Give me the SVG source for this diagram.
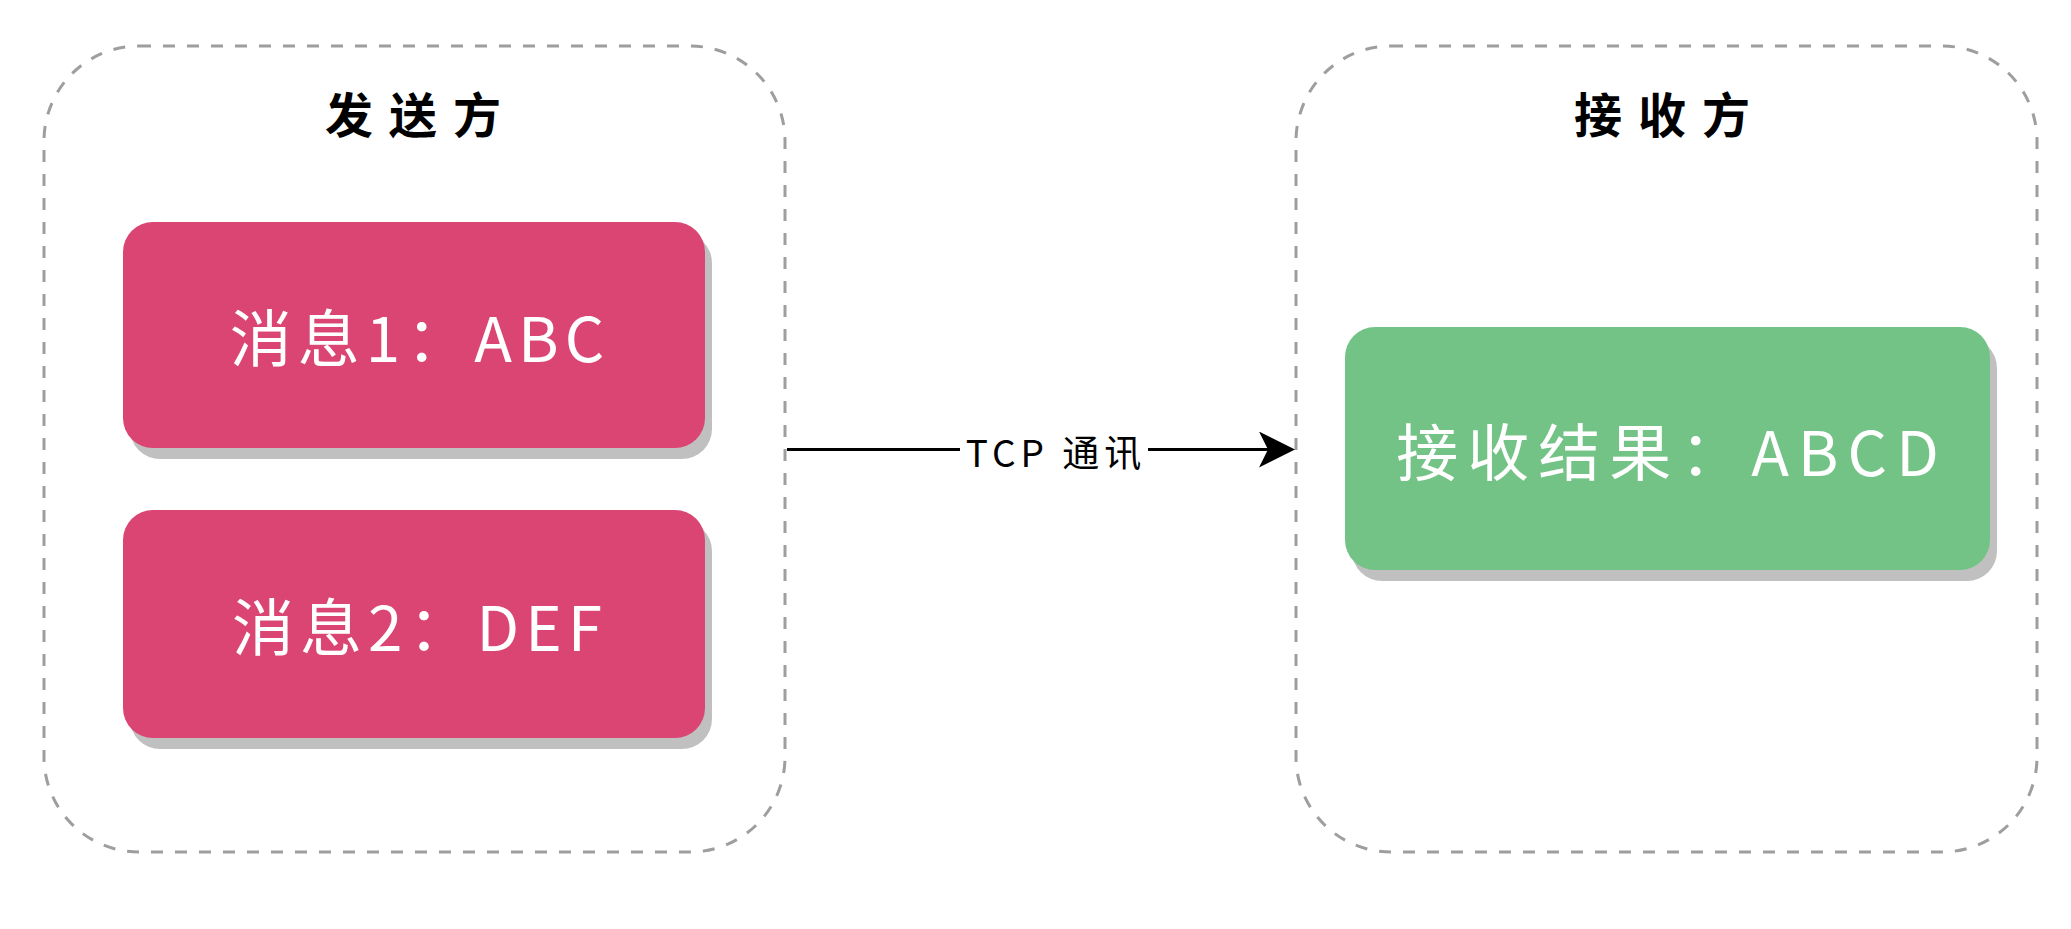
<svg xmlns="http://www.w3.org/2000/svg" width="2071" height="929" viewBox="0 0 2071 929">
  <style>
    .container { fill: #FFFFFF; stroke: #9E9E9E; stroke-width: 3; stroke-dasharray: 12 12; }
    .shadow { fill: #C0C0C0; }
    .pink { fill: #DA4573; }
    .green { fill: #74C386; }
    .title { font-family: "Noto Sans CJK SC", "Noto Sans", sans-serif; font-size: 48px; font-weight: bold; fill: #000000; letter-spacing: 16px; }
    .boxtext { font-family: "Noto Sans CJK SC", "Noto Sans", sans-serif; font-size: 62px; fill: #FFFFFF; }
    .label { font-family: "Noto Sans CJK SC", "Noto Sans", sans-serif; font-size: 37px; fill: #000000; letter-spacing: 5px; }
    .edge { fill: none; stroke: #000000; stroke-width: 3; }
  </style>
  <defs>
    <marker id="arrow" viewBox="0 0 36 36" refX="26" refY="18" markerWidth="36" markerHeight="36" markerUnits="userSpaceOnUse" orient="auto">
      <path d="M0,0 L36,18 L0,36 L9,18 Z" fill="#000000"/>
    </marker>
  </defs>
  <rect width="2071" height="929" fill="#FFFFFF"/>

  <g id="sender">
    <rect class="container" x="44" y="46" width="741" height="806" rx="95" ry="95"/>
    <text class="title" x="421" y="112" text-anchor="middle" dominant-baseline="central">发送方</text>
  </g>

  <g id="receiver">
    <rect class="container" x="1296" y="46" width="741" height="806" rx="95" ry="95"/>
    <text class="title" x="1670" y="112" text-anchor="middle" dominant-baseline="central">接收方</text>
  </g>

  <g id="msg1">
    <rect class="shadow" x="130" y="233" width="582" height="226" rx="30" ry="30"/>
    <rect class="pink" x="123" y="222" width="582" height="226" rx="30" ry="30"/>
    <text class="boxtext" x="420" y="335" text-anchor="middle" dominant-baseline="central" letter-spacing="6">消息1：ABC</text>
  </g>

  <g id="msg2">
    <rect class="shadow" x="130" y="521" width="582" height="228" rx="30" ry="30"/>
    <rect class="pink" x="123" y="510" width="582" height="228" rx="30" ry="30"/>
    <text class="boxtext" x="420" y="624" text-anchor="middle" dominant-baseline="central" letter-spacing="6">消息2：DEF</text>
  </g>

  <g id="result">
    <rect class="shadow" x="1352" y="338" width="645" height="243" rx="30" ry="30"/>
    <rect class="green" x="1345" y="327" width="645" height="243" rx="30" ry="30"/>
    <text class="boxtext" x="1672" y="449" text-anchor="middle" dominant-baseline="central" letter-spacing="9">接收结果：ABCD</text>
  </g>

  <g id="connectors">
    <line class="edge" x1="787" y1="449.5" x2="1285" y2="449.5" marker-end="url(#arrow)"/>
    <rect x="960" y="426" width="188" height="48" fill="#FFFFFF"/>
    <text class="label" x="1056" y="451" text-anchor="middle" dominant-baseline="central">TCP 通讯</text>
  </g>
</svg>
